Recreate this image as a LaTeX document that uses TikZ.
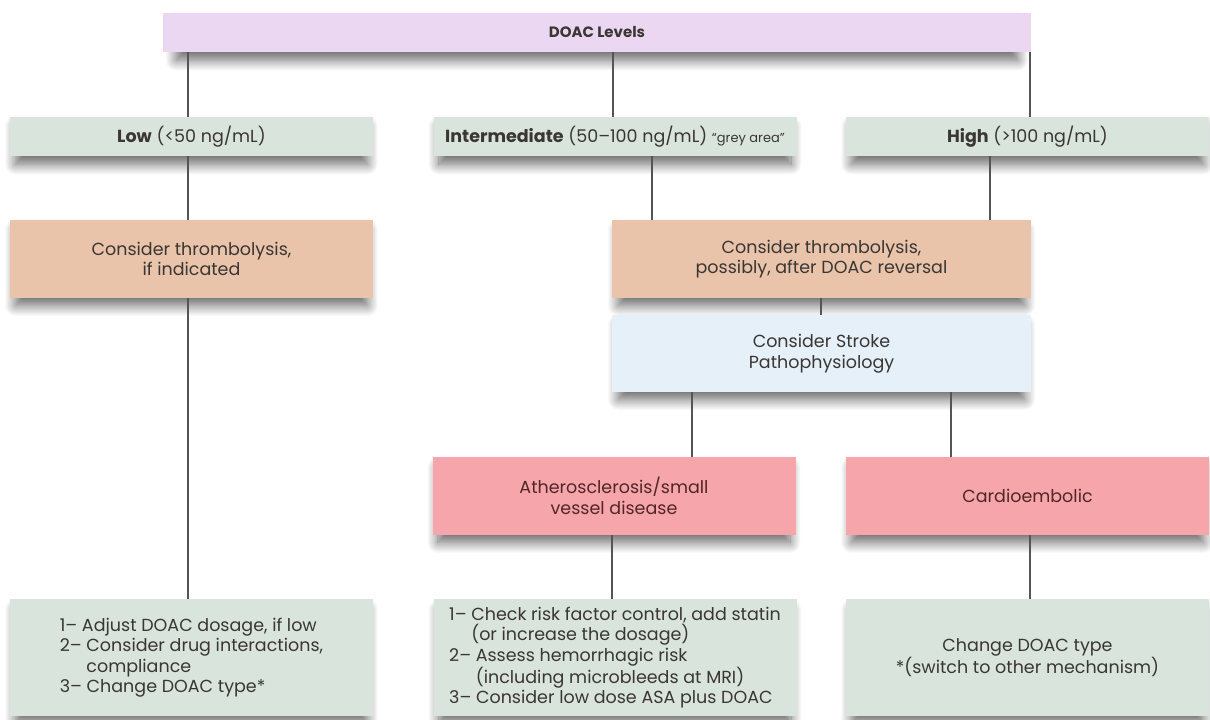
\documentclass[tikz,border=0pt]{standalone}
\usepackage{fontspec}
\setmainfont{Poppins}
\usepackage{tikz}
\usetikzlibrary{positioning}
\usetikzlibrary{shadows.blur}

\definecolor{lilac}{RGB}{235,215,241}
\definecolor{sage}{RGB}{217,228,221}
\definecolor{peach}{RGB}{233,196,170}
\definecolor{skyblue}{RGB}{229,240,249}
\definecolor{rose}{RGB}{246,166,170}
\definecolor{inkgray}{RGB}{58,54,52}
\definecolor{inkred}{RGB}{80,38,38}
\definecolor{linegray}{RGB}{85,85,85}

\begin{document}
\begin{tikzpicture}[x=1pt,y=-1pt,
    headbox/.style={fill=lilac,minimum width=868,minimum height=39,font=\fontsize{15}{17}\selectfont},
    levelbox/.style={fill=sage,minimum width=363,minimum height=39},
    thrombbox/.style={fill=peach,minimum height=78},
    strokebox/.style={fill=skyblue,minimum width=419,minimum height=77},
    typebox/.style={fill=rose,minimum width=363,minimum height=78,text=inkred},
    actionbox/.style={fill=sage,minimum width=363,minimum height=117,align=left}]
    \useasboundingbox (0,0) rectangle (1210,720);

    \begin{scope}[every node/.style={rectangle,inner sep=0pt,align=center,text=inkgray,
        font=\fontsize{17.5}{20.5}\selectfont,
        blur shadow={shadow xshift=0pt,shadow yshift=-9pt,shadow blur radius=11pt,
            shadow blur steps=15,shadow opacity=60,shadow scale=0.97}}]
        \node[headbox] (levels) at (597,32.5) {\textbf{DOAC Levels}};
        \node[levelbox] (low) at (191.5,136.5) {\textbf{Low} (<50 ng/mL)};
        \node[levelbox] (inter) at (615,136.5) {\textbf{Intermediate} (50–100 ng/mL) {\fontsize{13}{15}\selectfont “grey area”}};
        \node[levelbox] (high) at (1027.5,136.5) {\textbf{High} (>100 ng/mL)};
        \node[thrombbox,minimum width=363] (thlow) at (191.5,259) {Consider thrombolysis,\\if indicated};
        \node[thrombbox,minimum width=419] (thhigh) at (821.5,259) {Consider thrombolysis,\\possibly, after DOAC reversal};
        \node[strokebox] (stroke) at (821.5,353.5) {Consider Stroke\\Pathophysiology};
        \node[typebox] (athero) at (614,496) {Atherosclerosis/small\\vessel disease};
        \node[typebox] (cardio) at (1027.5,496) {Cardioembolic};
        \node[actionbox] (actlow) at (191.5,657.5) {1– Adjust DOAC dosage, if low\\2– Consider drug interactions,\\\phantom{2– }compliance\\3– Change DOAC type*};
        \node[actionbox] (actathero) at (615,657.5) {1– Check risk factor control, add statin\\\phantom{1– }(or increase the dosage)\\2– Assess hemorrhagic risk\\\phantom{2– }(including microbleeds at MRI)\\3– Consider low dose ASA plus DOAC};
        \node[actionbox,align=center] (actcardio) at (1027.5,657.5) {Change DOAC type\\*(switch to other mechanism)};
    \end{scope};

    \begin{scope}[every edge/.style={draw=linegray,line width=1.3pt}]
        \path [-] (levels.south -| 188,0) edge (low.north -| 188,0);
        \path [-] (levels.south -| 613,0) edge (inter.north -| 613,0);
        \path [-] (levels.south -| 1030,0) edge (high.north -| 1030,0);
        \path [-] (low.south -| 188,0) edge (thlow.north -| 188,0);
        \path [-] (inter.south -| 652,0) edge (thhigh.north -| 652,0);
        \path [-] (high.south -| 990,0) edge (thhigh.north -| 990,0);
        \path [-] (thhigh.south -| 821,0) edge (stroke.north -| 821,0);
        \path [-] (stroke.south -| 692,0) edge (athero.north -| 692,0);
        \path [-] (stroke.south -| 951,0) edge (cardio.north -| 951,0);
        \path [-] (thlow.south -| 188,0) edge (actlow.north -| 188,0);
        \path [-] (athero.south -| 612,0) edge (actathero.north -| 612,0);
        \path [-] (cardio.south -| 1030,0) edge (actcardio.north -| 1030,0);
    \end{scope}
\end{tikzpicture}
\end{document}
